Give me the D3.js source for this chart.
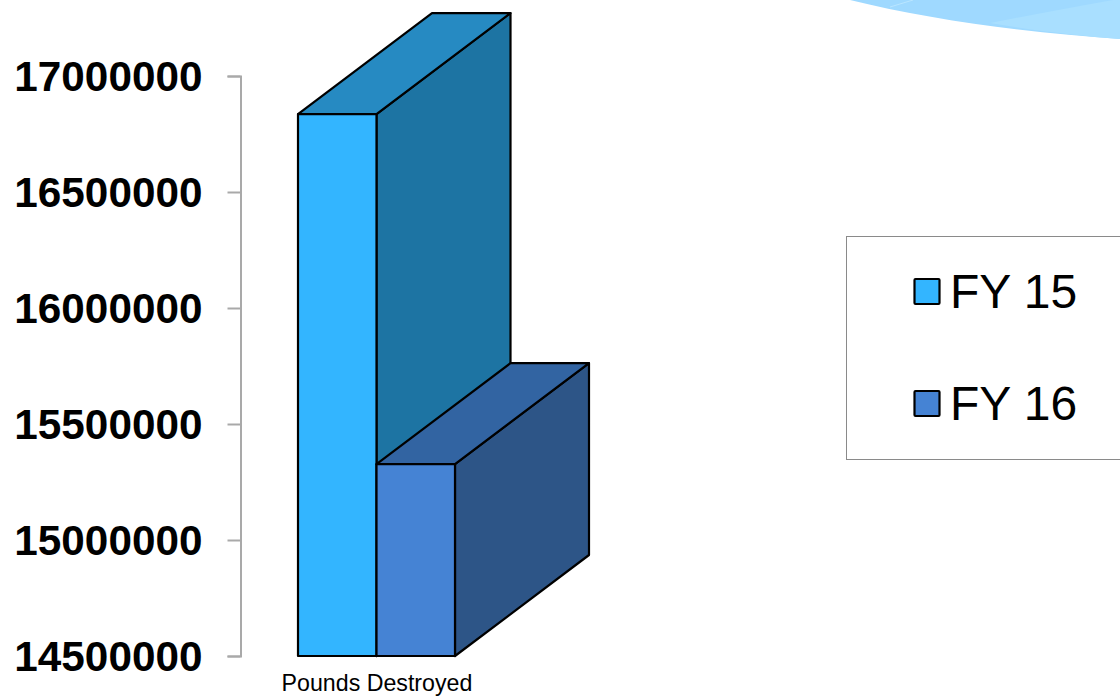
<!DOCTYPE html>
<html><head><meta charset="utf-8">
<script src="https://d3js.org/d3.v7.min.js"></script>
<style>html,body{margin:0;padding:0;background:#fff;overflow:hidden}svg{display:block}text{font-family:"Liberation Sans",Arial,sans-serif;fill:#000}</style>
</head><body><svg id="c" width="1120" height="697"></svg>
<script>
const seriesNames = ["FY 15", "FY 16"];
const seriesValues = [16836000, 15327000];
const category = ["Pounds Destroyed"];
const tickValues = [14500000, 15000000, 15500000, 16000000, 16500000, 17000000];
const frontColors = ["#33b5ff", "#4583d4"];
const topColors = ["#268ac2", "#3264a2"];
const sideColors = ["#1d74a3", "#2d5587"];

const svg = d3.select("#c");
const y = d3.scaleLinear().domain([14500000, 17000000]).range([656, 76]);
const xBand = d3.scaleBand().domain(seriesNames).range([298, 455]);
const depth = {dx: 134, dy: -101};

// background swoosh
svg.append("path").attr("d","M850,0 C930,20 1030,33 1120,39 L1120,0 Z").attr("fill","#9fd9ff");
svg.append("path").attr("d","M990,23 C1030,30 1080,36 1120,39 L1120,0 L1113,0 C1070,8 1030,15 990,23 Z").attr("fill","#a9dfff");
svg.append("path").attr("d","M890,7 L913,0").attr("stroke","#b9e5ff").attr("fill","none");

// axis
const axis = d3.axisLeft(y).tickValues(tickValues).tickFormat(d3.format("d")).tickSize(13).tickPadding(25);
const gAxis = svg.append("g").attr("transform","translate(240.5,0)").call(axis);
gAxis.selectAll("path,line").attr("stroke","#a9a9a9").attr("stroke-width",2);
gAxis.selectAll("text").attr("font-size",42.3).attr("font-weight","bold").attr("dy","0.35em").attr("font-family",'"Liberation Sans",Arial,sans-serif');
gAxis.attr("font-family",null);

// bars: draw back to front
const base = y.domain()[0];
const order = seriesNames.map((n,i)=>i);
const line = d3.line();
order.forEach(i=>{
  const g = svg.append("g").attr("stroke","#000").attr("stroke-width",2.2).attr("stroke-linejoin","round");
  const x0 = xBand(seriesNames[i]), x1 = x0 + xBand.bandwidth();
  const yt = y(seriesValues[i]), yb = y(base);
  g.append("path").attr("fill",sideColors[i]).attr("d",line([[x1,yt],[x1+depth.dx,yt+depth.dy],[x1+depth.dx,yb+depth.dy],[x1,yb]])+"Z");
  g.append("path").attr("fill",topColors[i]).attr("d",line([[x0,yt],[x0+depth.dx,yt+depth.dy],[x1+depth.dx,yt+depth.dy],[x1,yt]])+"Z");
  g.append("path").attr("fill",frontColors[i]).attr("d",line([[x0,yt],[x1,yt],[x1,yb],[x0,yb]])+"Z");
});

svg.append("text").attr("x",377).attr("y",691).attr("text-anchor","middle").attr("font-size",23.2).text(category[0]);

// legend
svg.append("rect").attr("x",846.5).attr("y",236.5).attr("width",280).attr("height",223).attr("fill","#fff").attr("stroke","#8a8a8a").attr("stroke-width",1);
const legY = d3.scalePoint().domain(seriesNames).range([291,403]);
seriesNames.forEach((n,i)=>{
  svg.append("rect").attr("x",914.5).attr("y",legY(n)-12).attr("width",25).attr("height",25).attr("rx",1).attr("fill",frontColors[i]).attr("stroke","#000").attr("stroke-width",2.2);
  svg.append("text").attr("x",950).attr("y",legY(n)+16.5).attr("font-size",48).text(n);
});
</script></body></html>
